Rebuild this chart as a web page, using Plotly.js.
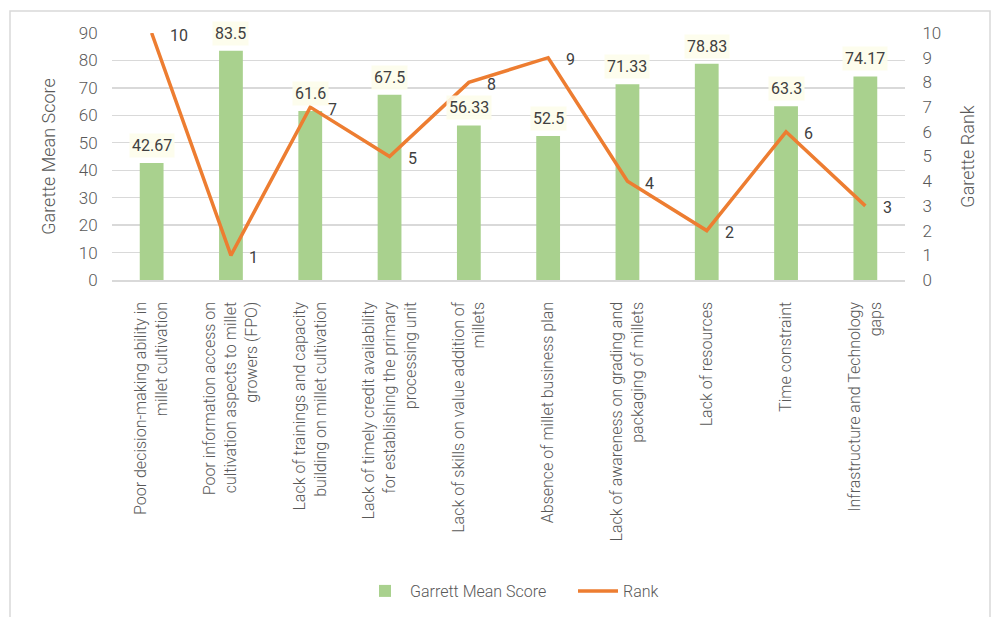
<!DOCTYPE html>
<html><head><meta charset="utf-8">
<script src="https://cdn.plot.ly/plotly-3.0.1.min.js"></script>
<style>html,body{margin:0;padding:0;background:#fff;}#chart{width:995px;height:617px;}</style>
</head><body><div id="chart"></div>
<script>
var categories = [
  "Poor decision-making ability in<br>millet cultivation",
  "Poor information access on<br>cultivation aspects to millet<br>growers (FPO)",
  "Lack of trainings and capacity<br>building on millet cultivation",
  "Lack of timely credit availability<br>for establishing the primary<br>processing unit",
  "Lack of skills on value addition of<br>millets",
  "Absence of millet business plan",
  "Lack of awareness on grading and<br>packaging of millets",
  "Lack of resources",
  "Time constraint",
  "Infrastructure and Technology<br>gaps"
];
var meanScore = [42.67, 83.5, 61.6, 67.5, 56.33, 52.5, 71.33, 78.83, 63.3, 74.17];
var rank = [10, 1, 7, 5, 8, 9, 4, 2, 6, 3];
var scoreLabels = ["42.67", "83.5", "61.6", "67.5", "56.33", "52.5", "71.33", "78.83", "63.3", "74.17"];

var FONT = "Roboto, 'Open Sans', sans-serif";
var GREY = "#595959";
var W = 300;

var traces = [
  {type: "bar", x: categories, y: meanScore, name: "Garrett Mean Score",
   marker: {color: "#A9D18E"}, width: 0.3, yaxis: "y"},
  {type: "scatter", mode: "lines", x: categories, y: rank, name: "Rank",
   line: {color: "#ED7D31", width: 3.5}, yaxis: "y2", cliponaxis: false}
];

var annotations = [];
categories.forEach(function(c, i) {
  annotations.push({x: c, y: meanScore[i], xref: "x", yref: "y", text: scoreLabels[i],
    showarrow: false, yanchor: "bottom", yshift: 5, bgcolor: "rgba(253,253,235,0.9)",
    borderpad: 2, font: {family: FONT, size: 16, color: "#404040", weight: 400}});
  annotations.push({x: c, y: rank[i], xref: "x", yref: "y2", text: String(rank[i]),
    showarrow: false, xanchor: "left", xshift: 16, yshift: -2,
    font: {family: FONT, size: 16, color: "#404040", weight: 400}});
});

var layout = {
  width: 995, height: 617,
  margin: {l: 112, r: 90, t: 33, b: 336},
  paper_bgcolor: "#fff", plot_bgcolor: "#fff",
  font: {family: FONT, color: GREY, weight: W},
  showlegend: true,
  legend: {orientation: "h", x: (360 - 112) / 793, xanchor: "left", y: -1.25, yanchor: "middle",
    font: {family: FONT, size: 16, color: GREY, weight: W}, traceorder: "normal", itemwidth: 40,
    entrywidth: 158},
  bargap: 0.7,
  xaxis: {type: "category", tickangle: -90, tickfont: {family: FONT, size: 16, color: GREY, weight: W},
    showline: true, linecolor: "#d9d9d9", linewidth: 1.5, ticks: "outside", ticklen: 0,
    ticklabelstandoff: 14, showgrid: false, automargin: false},
  yaxis: {range: [0, 90], dtick: 10, showgrid: true, gridcolor: "#d9d9d9", gridwidth: 1.3,
    zeroline: false, tickfont: {family: FONT, size: 17, color: GREY, weight: W}, ticks: "outside", ticklen: 0,
    ticklabelstandoff: 10,
    title: {text: "Garette Mean Score", font: {family: FONT, size: 18, color: GREY, weight: W}, standoff: 18},
    automargin: false},
  yaxis2: {range: [0, 10], dtick: 1, overlaying: "y", side: "right", showgrid: false,
    zeroline: false, tickfont: {family: FONT, size: 17, color: GREY, weight: W}, ticks: "outside", ticklen: 0,
    ticklabelstandoff: 13,
    title: {text: "Garette Rank", font: {family: FONT, size: 18, color: GREY, weight: W}, standoff: 21},
    automargin: false},
  annotations: annotations,
  shapes: [
    {type: "rect", xref: "paper", yref: "paper",
     x0: (10 - 112) / 793, x1: (990 - 112) / 793, y0: (281 - 640) / 248, y1: (281 - 11) / 248,
     line: {color: "#d9d9d9", width: 1.5}, fillcolor: "rgba(0,0,0,0)", layer: "below"}
  ]
};

Plotly.newPlot("chart", traces, layout, {displayModeBar: false, staticPlot: true});
</script>
</body></html>
